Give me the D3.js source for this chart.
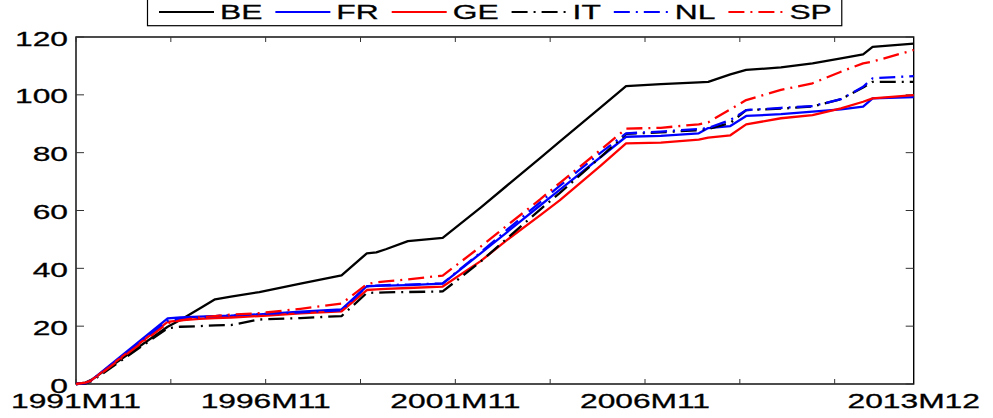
<!DOCTYPE html>
<html>
<head>
<meta charset="utf-8">
<script src="https://cdn.jsdelivr.net/npm/d3@7"></script>
<style>
  html, body { margin: 0; padding: 0; background: #fff; }
  svg { display: block; }
  text { font-family: "Liberation Sans", Arial, Helvetica, sans-serif; fill: #000; stroke: #000; stroke-width: 0.3px; }
</style>
</head>
<body>
<svg id="chart" width="993" height="418"></svg>
<script>
// ---- data ----
const periods = ["1991M11","1992M02","1992M04","1994M04","1994M08","1995M02","1995M07","1995M12",
  "1996M09","1997M10","1998M11","1999M07","1999M10","2000M01","2000M08","2001M07","2002M07",
  "2003M03","2004M02","2004M08","2005M09","2006M05","2007M04","2008M04","2008M07","2009M02",
  "2009M07","2010M06","2011M04","2012M01","2012M08","2012M11","2013M12"];
const seriesNames = ["BE","FR","GE","IT","NL","SP"];
const BE = [0,0.5,1.5,19.8,22.1,26.0,29.3,30.2,31.8,34.7,37.6,45.2,45.5,46.6,49.4,50.5,61.0,68.3,78.3,83.8,95.7,103.0,103.7,104.3,104.5,107.1,108.6,109.5,110.9,112.6,114.0,116.6,117.7];
const FR = [0,0.3,1.4,22.7,23.0,23.3,23.5,23.6,24.1,25.0,25.8,33.8,33.9,34.0,34.2,34.7,45.2,52.2,61.9,67.1,78.5,85.5,85.8,86.7,88.5,89.2,92.7,93.3,94.2,95.0,95.9,98.8,99.2];
const GE = [0,0.3,1.4,21.5,22.0,22.5,22.8,23.0,23.5,24.4,25.1,32.5,32.7,32.9,33.2,33.7,42.5,49.5,58.5,63.5,75.5,83.2,83.5,84.5,85.2,86.0,89.8,91.9,93.0,95.3,97.6,98.8,99.9];
const IT = [0,0.2,1.0,19.3,19.8,20.0,20.3,20.4,22.3,22.8,23.5,31.5,31.6,31.7,31.8,32.0,42.3,50.0,60.5,66.0,78.5,86.5,87.0,87.8,88.2,90.3,94.7,95.2,96.0,98.5,102.5,104.5,104.5];
const NL = [0,0.3,1.3,21.9,22.5,23.0,23.5,23.8,24.2,24.8,25.5,33.8,34.0,34.2,34.4,34.8,45.5,53.0,63.0,68.5,80.0,86.7,87.3,88.2,88.5,91.3,94.7,95.5,96.1,98.5,102.8,105.7,106.5];
const SP = [0,0.5,1.2,21.0,22.0,23.0,23.5,24.0,24.5,26.0,27.8,34.5,35.2,35.5,36.2,37.5,47.5,54.5,64.0,69.5,81.0,88.3,88.6,89.8,90.5,95.0,98.2,101.7,104.0,108.0,110.9,111.5,115.5];
const yTicks = [0,20,40,60,80,100,120];
const xTickPeriods = ["1991M11","1994M05","1996M11","1999M05","2001M11","2004M05","2006M11","2009M05","2011M11"];
const xLabelPeriods = ["1991M11","1996M11","2001M11","2006M11","2013M12"];

// ---- styles ----
const colors = {BE:"#000000", FR:"#0000ff", GE:"#ff0000", IT:"#000000", NL:"#0000ff", SP:"#ff0000"};
const dashes = {BE:null, FR:null, GE:null, IT:"16,6,2,6", NL:"16,6,2,6", SP:"16,6,2,6"};
const values = {BE, FR, GE, IT, NL, SP};

const FS = 20.5, SX = 1.55;

function monthIndex(p) {
  const y = +p.slice(0,4), m = +p.slice(5);
  return (y - 1991) * 12 + (m - 11);
}

const svg = d3.select("#chart");
const L = 76, R = 913.7, T = 37, B = 384;
const x = d3.scaleLinear().domain([0, monthIndex("2013M12")]).range([L, R]);
const y = d3.scaleLinear().domain([0, 120]).range([B, T]);

// axes box
const g = svg.append("g");
g.append("rect").attr("x", L).attr("y", T).attr("width", R - L).attr("height", B - T)
  .attr("fill", "none").attr("stroke", "#000").attr("stroke-width", 1.4);

// y ticks (left & right, inward)
yTicks.forEach(v => {
  g.append("line").attr("x1", L).attr("x2", L + 8).attr("y1", y(v)).attr("y2", y(v)).attr("stroke", "#333");
  g.append("line").attr("x1", R).attr("x2", R - 8).attr("y1", y(v)).attr("y2", y(v)).attr("stroke", "#333");
  g.append("text").attr("text-anchor", "end")
    .attr("transform", `translate(68,${y(v) + 8.5}) scale(${SX},1)`)
    .style("font-size", FS + "px").text(v);
});
// x ticks (bottom & top, inward)
xTickPeriods.forEach(p => {
  const xx = x(monthIndex(p));
  g.append("line").attr("x1", xx).attr("x2", xx).attr("y1", B).attr("y2", B - 5).attr("stroke", "#333");
  g.append("line").attr("x1", xx).attr("x2", xx).attr("y1", T).attr("y2", T + 5).attr("stroke", "#333");
});
xLabelPeriods.forEach(p => {
  g.append("text").attr("text-anchor", "middle")
    .attr("transform", `translate(${x(monthIndex(p))},408) scale(${SX},1)`)
    .style("font-size", FS + "px").text(p);
});

// lines
const line = d3.line().x((d, i) => x(monthIndex(periods[i]))).y(d => y(d));
seriesNames.forEach(n => {
  const path = svg.append("path").datum(values[n])
    .attr("fill", "none").attr("stroke", colors[n]).attr("stroke-width", 2.3)
    .attr("stroke-linejoin", "round").attr("d", line);
  if (dashes[n]) path.attr("stroke-dasharray", dashes[n]);
});

// legend
const lg = svg.append("g");
const legY = 12;
let cx = 159;
seriesNames.forEach(n => {
  const x0 = cx;
  lg.append("line").attr("x1", x0).attr("x2", x0 + 55).attr("y1", legY).attr("y2", legY)
    .attr("stroke", colors[n]).attr("stroke-width", 2)
    .attr("stroke-dasharray", dashes[n]);
  const t = lg.append("text").attr("transform", `translate(${x0 + 61},19) scale(${SX},1)`)
    .style("font-size", FS + "px").text(n);
  const w = t.node().getComputedTextLength() * SX;
  cx = x0 + 61 + w + 13;
});
lg.insert("rect", ":first-child").attr("x", 147.5).attr("y", -2).attr("width", cx - 13 + 10 - 147.5).attr("height", 27.7)
  .attr("fill", "#fff").attr("stroke", "#000").attr("stroke-width", 1.2);
</script>
</body>
</html>
